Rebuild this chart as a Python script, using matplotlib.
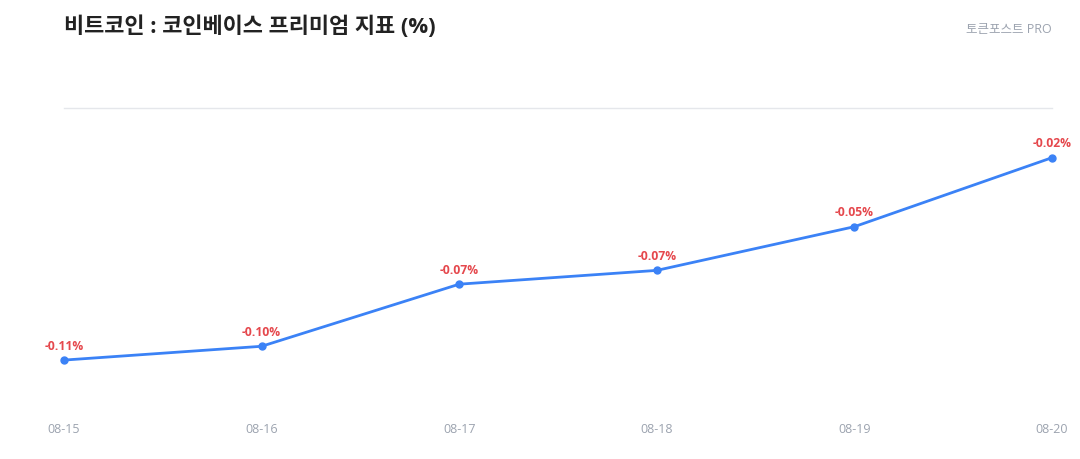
import numpy as np
import matplotlib
matplotlib.use("Agg")
import matplotlib.pyplot as plt

plt.rcParams['font.family'] = ['Open Sans', 'Noto Sans CJK KR', 'DejaVu Sans']

dates = ["08-15", "08-16", "08-17", "08-18", "08-19", "08-20"]
premium = [-0.107, -0.101, -0.074, -0.068, -0.049, -0.019]
labels = ["-0.11%", "-0.10%", "-0.07%", "-0.07%", "-0.05%", "-0.02%"]

fig = plt.figure(figsize=(10.8, 4.6), dpi=100)
ax = fig.add_axes([64 / 1080, 1 - 411 / 460, 988 / 1080, 302 / 460])

x = np.arange(len(dates))
ax.plot(x, premium, color="#3b82f6", lw=2, marker="o", ms=5, clip_on=False, zorder=3)
for xi, v, lab in zip(x, premium, labels):
    ax.annotate(lab, (xi, v), xytext=(0, 6), textcoords="offset points",
                ha="center", va="bottom", fontsize=8.7, fontweight="bold",
                color="#e5484d")

ax.set_xlim(0, len(dates) - 1)
ax.set_ylim(-0.1287, 0.0026)
ax.set_xticks(x)
ax.set_xticklabels(dates)
ax.set_yticks([])
ax.tick_params(axis="x", length=0, pad=9, labelsize=9, labelcolor="#9ca3af")
for side in ["left", "right", "bottom"]:
    ax.spines[side].set_visible(False)
ax.spines["top"].set_color("#e5e7eb")
ax.spines["top"].set_linewidth(1)

fig.text(64 / 1080, 1 - 27 / 460, "비트코인 : 코인베이스 프리미엄 지표 (%)",
         fontsize=15.8, fontweight="bold", color="#222222", va="center", ha="left")
fig.text(1052 / 1080, 1 - 30 / 460, "토큰포스트 PRO",
         fontsize=9, color="#9ca3af", va="center", ha="right")

fig.savefig("out.png", dpi=100)
